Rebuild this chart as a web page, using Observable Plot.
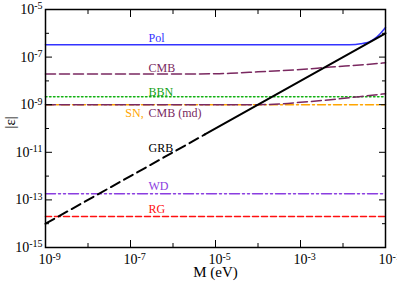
<!DOCTYPE html>
<html>
<head>
<meta charset="utf-8">
<script src="https://cdn.jsdelivr.net/npm/d3@7"></script>
<script src="https://cdn.jsdelivr.net/npm/@observablehq/plot@0.6"></script>
<style>
  html, body { margin: 0; padding: 0; background: #fff; }
  svg { font-family: "Liberation Serif", "DejaVu Serif", serif; }
</style>
</head>
<body>
<div id="chart"></div>
<script>
// ---- data (log10 values) ----
const polLogM   = [-9, -2.0, -1.7, -1.59, -1.45, -1.35, -1.2, -1.12, -1.0];
const polLogE   = [-6.48, -6.48, -6.47, -6.44, -6.40, -6.33, -6.15, -6.01, -5.76];

const cmbLogM   = [-9, -6, -5, -4.65, -4, -3, -2.29, -1.5, -1.0];
const cmbLogE   = [-7.71, -7.71, -7.70, -7.68, -7.62, -7.52, -7.42, -7.32, -7.24];

const cmbMdLogM = [-9, -4, -3.5, -3.0, -2.29, -1.5, -1.0];
const cmbMdLogE = [-9.0, -9.0, -8.97, -8.90, -8.79, -8.64, -8.54];

const bbnLogM   = [-9, -1];
const bbnLogE   = [-8.67, -8.67];

const snLogM    = [-9, -1];
const snLogE    = [-9.0, -9.0];

const wdLogM    = [-9, -1];
const wdLogE    = [-12.74, -12.74];

const rgLogM    = [-9, -1];
const rgLogE    = [-13.70, -13.70];

const grbDashLogM  = [-9, -5.25];
const grbDashLogE  = [-14.0, -10.25];
const grbSolidLogM = [-5.25, -1];
const grbSolidLogE = [-10.25, -6.0];

const xMajor = [1e-9, 1e-7, 1e-5, 1e-3, 1e-1];
const xMinor = [1e-8, 1e-6, 1e-4, 1e-2];
const yMajor = [1e-15, 1e-13, 1e-11, 1e-9, 1e-7, 1e-5];
const yMinor = [1e-14, 1e-12, 1e-10, 1e-8, 1e-6];

const labelNames = ["Pol", "CMB", "BBN", "CMB (md)", "GRB", "WD", "RG"];
const labelLogM  = [-6.576, -6.576, -6.576, -6.576, -6.576, -6.576, -6.576];
const labelLogE  = [-6.22, -7.46, -8.47, -9.35, -10.82, -12.44, -13.40];
const labelColors = ["#3333ff", "#7a2860", "#10a010", "#7a2860", "#000000", "#8a3de0", "#ff1010"];
const snLabel = {name: "SN,", logM: -6.69, logE: -9.35};

const toPts = (lm, le) => lm.map((m, i) => ({M: 10 ** m, e: 10 ** le[i]}));

const width = 397, height = 284;
const tickFs = 14;

const chart = Plot.plot({
  width, height,
  marginLeft: 45, marginRight: 12, marginTop: 9, marginBottom: 37,
  style: {fontFamily: "Liberation Serif, serif", fontSize: "12px", background: "#fff", color: "#000"},
  x: {type: "log", domain: [1e-9, 1e-1]},
  y: {type: "log", domain: [1e-15, 1e-5]},
  marks: [
    Plot.line(toPts(snLogM, snLogE), {x: "M", y: "e", stroke: "#ffa500", strokeWidth: 1.5, strokeDasharray: "8,3,2,3"}),
    Plot.line(toPts(bbnLogM, bbnLogE), {x: "M", y: "e", stroke: "#10b010", strokeWidth: 1.5, strokeDasharray: "1.5,2.5"}),
    Plot.line(toPts(cmbMdLogM, cmbMdLogE), {x: "M", y: "e", stroke: "#7a2860", strokeWidth: 1.5, strokeDasharray: "10,4", curve: "monotone-x"}),
    Plot.line(toPts(cmbLogM, cmbLogE), {x: "M", y: "e", stroke: "#7a2860", strokeWidth: 1.5, strokeDasharray: "10,4", curve: "monotone-x"}),
    Plot.line(toPts(wdLogM, wdLogE), {x: "M", y: "e", stroke: "#8a3de0", strokeWidth: 1.5, strokeDasharray: "10,3,2,3,2,3"}),
    Plot.line(toPts(rgLogM, rgLogE), {x: "M", y: "e", stroke: "#ff1010", strokeWidth: 1.5, strokeDasharray: "6,3"}),
    Plot.line(toPts(polLogM, polLogE), {x: "M", y: "e", stroke: "#3333ff", strokeWidth: 1.5, curve: "monotone-x"}),
    Plot.line(toPts(grbDashLogM, grbDashLogE), {x: "M", y: "e", stroke: "#000", strokeWidth: 2, strokeDasharray: "10,5"}),
    Plot.line(toPts(grbSolidLogM, grbSolidLogE), {x: "M", y: "e", stroke: "#000", strokeWidth: 2}),

    Plot.text(labelNames, {x: (d, i) => 10 ** labelLogM[i], y: (d, i) => 10 ** labelLogE[i], text: d => d,
      fill: (d, i) => labelColors[i], textAnchor: "start", fontSize: 12}),
    Plot.text([snLabel], {x: d => 10 ** d.logM, y: d => 10 ** d.logE, text: "name", fill: "#ffa500", textAnchor: "end", fontSize: 12}),

    // tick marks (inward)
    Plot.axisX({ticks: xMajor, tickSize: -7, fill: "none", label: null, anchor: "bottom"}),
    Plot.axisX({ticks: xMinor, tickSize: -4, fill: "none", label: null, anchor: "bottom"}),
    Plot.axisX({ticks: xMajor, tickSize: -7, fill: "none", label: null, anchor: "top"}),
    Plot.axisX({ticks: xMinor, tickSize: -4, fill: "none", label: null, anchor: "top"}),
    Plot.axisY({ticks: yMajor, tickSize: -7, fill: "none", label: null, anchor: "left"}),
    Plot.axisY({ticks: yMinor, tickSize: -4, fill: "none", label: null, anchor: "left"}),
    Plot.axisY({ticks: yMajor, tickSize: -7, fill: "none", label: null, anchor: "right"}),
    Plot.axisY({ticks: yMinor, tickSize: -4, fill: "none", label: null, anchor: "right"}),
    // tick labels
    Plot.axisX({ticks: xMajor, tickSize: 0, tickPadding: 7, label: null, anchor: "bottom",
      tickFormat: d => "10^" + Math.round(Math.log10(d)), fontSize: tickFs}),
    Plot.axisY({ticks: yMajor, tickSize: 0, tickPadding: 3, label: null, anchor: "left",
      tickFormat: d => "10^" + Math.round(Math.log10(d)), fontSize: tickFs}),

    Plot.frame({stroke: "#000", strokeWidth: 1.5}),

    Plot.text(["M (eV)"], {frameAnchor: "bottom", dy: 25, fontSize: 15, lineAnchor: "middle"}),
    Plot.text(["|ε|"], {frameAnchor: "left", dx: -35, rotate: -90, fontSize: 15, lineAnchor: "middle"})
  ]
});

document.getElementById("chart").appendChild(chart);

// turn "10^-n" into 10 with a superscript exponent
const SVGNS = "http://www.w3.org/2000/svg";
chart.querySelectorAll("text").forEach(t => {
  const s = t.textContent;
  const m = /^10\^(-?\d+)$/.exec(s);
  if (!m) return;
  const isX = t.closest('[aria-label="x-axis tick label"]') !== null;
  t.textContent = "";
  t.setAttribute("font-size", String(tickFs));
  const base = document.createElementNS(SVGNS, "tspan");
  base.textContent = "10";
  const sup = document.createElementNS(SVGNS, "tspan");
  sup.textContent = m[1];
  sup.setAttribute("dy", "-0.45em");
  sup.setAttribute("font-size", "10");
  t.appendChild(base);
  t.appendChild(sup);
  if (isX) {
    const w10 = t.getSubStringLength(0, 2);
    t.setAttribute("text-anchor", "start");
    t.setAttribute("dx", String(-w10 / 2));
  }
});
</script>
</body>
</html>
